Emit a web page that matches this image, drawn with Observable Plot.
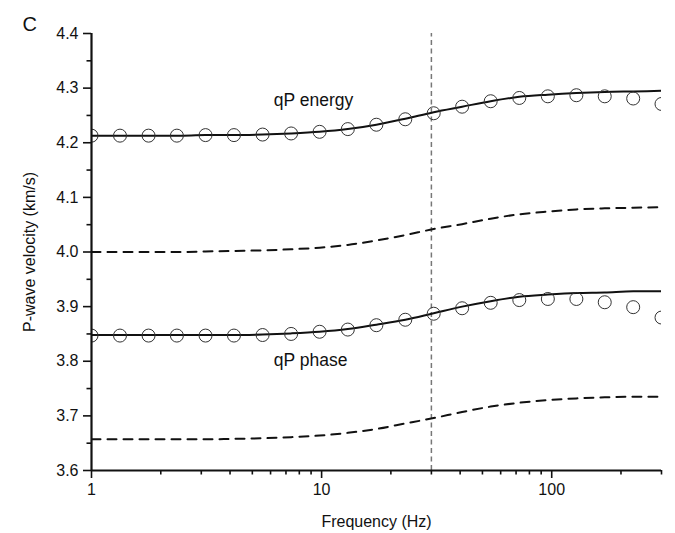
<!DOCTYPE html>
<html>
<head>
<meta charset="utf-8">
<script src="https://cdn.jsdelivr.net/npm/d3@7"></script>
<script src="https://cdn.jsdelivr.net/npm/@observablehq/plot@0.6"></script>
<style>
  html, body { margin: 0; padding: 0; background: #fff; }
  #chart svg { display: block; }
</style>
</head>
<body>
<div id="chart"></div>
<script>
// Frequencies (Hz) of the sampled points
const freq = [1, 1.33, 1.77, 2.35, 3.13, 4.16, 5.54, 7.37, 9.8, 13.0, 17.3, 23.1, 30.7, 40.8, 54.3, 72.3, 96.2, 128, 170, 226, 300];

// qP energy velocity: circles (numerical) and solid line (theory), dashed (reference)
const energyDots = [4.213, 4.213, 4.213, 4.213, 4.214, 4.214, 4.215, 4.217, 4.220, 4.225, 4.233, 4.243, 4.254, 4.266, 4.276, 4.282, 4.285, 4.287, 4.285, 4.281, 4.271];
const energyLine = [4.213, 4.213, 4.213, 4.213, 4.214, 4.214, 4.215, 4.217, 4.220, 4.225, 4.233, 4.244, 4.256, 4.266, 4.276, 4.284, 4.288, 4.291, 4.293, 4.294, 4.295];
const energyDash = [4.000, 4.000, 4.000, 4.000, 4.001, 4.002, 4.003, 4.005, 4.008, 4.013, 4.021, 4.031, 4.042, 4.051, 4.061, 4.069, 4.074, 4.078, 4.080, 4.081, 4.082];

// qP phase velocity
const phaseDots = [3.847, 3.847, 3.847, 3.847, 3.847, 3.847, 3.848, 3.850, 3.854, 3.858, 3.866, 3.876, 3.887, 3.897, 3.907, 3.912, 3.914, 3.914, 3.908, 3.899, 3.880];
const phaseLine = [3.848, 3.848, 3.848, 3.848, 3.848, 3.848, 3.849, 3.851, 3.854, 3.859, 3.867, 3.876, 3.888, 3.900, 3.910, 3.918, 3.922, 3.925, 3.926, 3.928, 3.928];
const phaseDash = [3.657, 3.657, 3.657, 3.657, 3.657, 3.658, 3.659, 3.661, 3.664, 3.669, 3.676, 3.686, 3.696, 3.707, 3.717, 3.724, 3.729, 3.732, 3.734, 3.735, 3.735];

// Marked frequency (vertical dashed line)
const markFreq = [30];

// Axis ticks
const yTicks = [3.6, 3.7, 3.8, 3.9, 4.0, 4.1, 4.2, 4.3, 4.4];
const yMinor = [3.65, 3.75, 3.85, 3.95, 4.05, 4.15, 4.25, 4.35];
const xTicks = [1, 10, 100];
const xMinor = [2, 3, 4, 5, 6, 7, 8, 9, 20, 30, 40, 50, 60, 70, 80, 90, 200, 300];

// Curve labels
const labels = [
  {text: "qP energy", f: 6.2, v: 4.268},
  {text: "qP phase", f: 6.2, v: 3.792}
];

const toRows = (vals) => freq.map((f, i) => ({f, v: vals[i]}));

const font = "'Liberation Sans', Arial, Helvetica, sans-serif";

const chart = Plot.plot({
  width: 675,
  height: 533,
  marginLeft: 91,
  marginRight: 14,
  marginTop: 33,
  marginBottom: 63,
  style: {fontFamily: font, fontSize: "17px", color: "#111", background: "#fff"},
  x: {type: "log", domain: [1, 300]},
  y: {domain: [3.6, 4.4]},
  marks: [
    // vertical dashed reference line
    Plot.ruleX(markFreq, {y1: 3.6, y2: 4.4, stroke: "#777", strokeWidth: 1.5, strokeDasharray: "5,3.5"}),
    // dashed curves
    Plot.line(toRows(energyDash), {x: "f", y: "v", stroke: "#111", strokeWidth: 2, strokeDasharray: "9,7", curve: "monotone-x", clip: true}),
    Plot.line(toRows(phaseDash), {x: "f", y: "v", stroke: "#111", strokeWidth: 2, strokeDasharray: "9,7", curve: "monotone-x", clip: true}),
    // solid curves
    Plot.line(toRows(energyLine), {x: "f", y: "v", stroke: "#111", strokeWidth: 2, curve: "monotone-x", clip: true}),
    Plot.line(toRows(phaseLine), {x: "f", y: "v", stroke: "#111", strokeWidth: 2, curve: "monotone-x", clip: true}),
    // circles
    Plot.dot(toRows(energyDots), {x: "f", y: "v", r: 6.5, stroke: "#333", strokeWidth: 1, fill: "none", clip: true}),
    Plot.dot(toRows(phaseDots), {x: "f", y: "v", r: 6.5, stroke: "#333", strokeWidth: 1, fill: "none", clip: true}),
    // curve labels
    Plot.text(labels, {x: "f", y: "v", text: "text", textAnchor: "start", lineAnchor: "bottom", fontSize: 17.5, fill: "#111"}),
    // axes
    Plot.axisY(yTicks, {tickSize: 8, tickPadding: 5, strokeWidth: 1.6, stroke: "#111", tickFormat: d3.format(".1f"), fontSize: 16,
      label: "P-wave velocity (km/s)", labelAnchor: "center", labelArrow: "none", labelOffset: 68}),
    Plot.axisY(yMinor, {tickSize: 4.5, strokeWidth: 1.6, stroke: "#111", text: null, label: null}),
    Plot.axisX(xTicks, {tickSize: 8, tickPadding: 5, strokeWidth: 1.6, stroke: "#111", tickFormat: d => String(d), fontSize: 16,
      label: "Frequency (Hz)", labelAnchor: "center", labelArrow: "none", labelOffset: 56}),
    Plot.axisX(xMinor, {tickSize: 4.5, strokeWidth: 1.6, stroke: "#111", text: null, label: null}),
    // axis lines
    Plot.ruleX([1], {stroke: "#111", strokeWidth: 2.2}),
    Plot.ruleY([3.6], {stroke: "#111", strokeWidth: 2.2}),
    // panel letter
    Plot.text(["C"], {frameAnchor: "top-left", dx: -69, dy: -17, textAnchor: "start", fontSize: 20, fill: "#111"})
  ]
});

document.getElementById("chart").append(chart);
</script>
</body>
</html>
